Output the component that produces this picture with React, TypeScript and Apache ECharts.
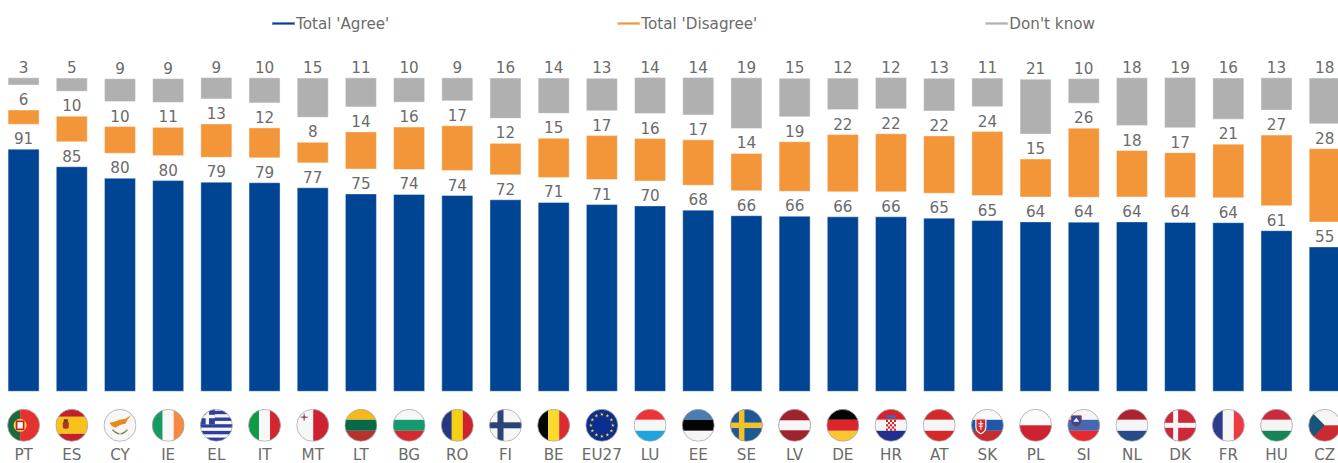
import React, { useEffect, useRef } from "react";
import * as echarts from "echarts";

const countries = ["PT","ES","CY","IE","EL","IT","MT","LT","BG","RO","FI","BE","EU27","LU","EE","SE","LV","DE","HR","AT","SK","PL","SI","NL","DK","FR","HU","CZ"];
const agree = [91.3,84.7,80.4,79.5,78.9,78.7,76.8,74.5,74.3,73.9,72.3,71.3,70.5,70.0,68.4,66.3,66.1,65.9,65.9,65.4,64.5,64.0,63.9,64.0,63.8,63.7,60.7,54.6];
const disagree = [5.7,10.0,10.4,11.0,12.9,11.6,8.1,14.3,16.3,17.2,12.2,15.1,16.9,16.3,17.4,14.4,19.0,21.9,22.2,21.9,24.4,14.6,26.3,17.8,17.2,20.5,26.9,27.9];
const dontKnow = [3.1,5.3,9.0,9.3,8.5,9.8,15.1,11.3,9.5,9.0,15.5,13.6,12.5,13.9,14.4,19.4,14.8,12.2,12.2,12.6,11.1,21.0,9.6,18.3,19.3,15.8,12.5,17.5];
const spacerLow = [9,9,9,9,9,9,9,9,9,9,9,9,9,9,9,9,9,9,9,9,9,9,9,9,9,9,9,9];
const spacerHigh = [9,9,9,9,9,9,9,9,9,9,9,9,9,9,9,9,9,9,9,9,9,9,9,9,9,9,9,9];

const FONT = "'DejaVu Sans', Verdana, sans-serif";
const TEXT = "#6b6b6b";
const FS = 15.2;
const W = 33;

const rect = (x: number, y: number, w: number, h: number, c: string) => `<rect x="${x}" y="${y}" width="${w}" height="${h}" fill="${c}"/>`;
const hz = (a: string, b: string, c: string) => rect(0,0,33,11,a)+rect(0,11,33,11,b)+rect(0,22,33,11,c);
const vt = (a: string, b: string, c: string) => rect(0,0,11,33,a)+rect(11,0,11,33,b)+rect(22,0,11,33,c);
const star = (cx: number, cy: number, r: number, c: string) => {
  const pts: string[] = [];
  for (let i = 0; i < 10; i++) {
    const rr = i % 2 ? r * 0.4 : r;
    const a = -Math.PI / 2 + (i * Math.PI) / 5;
    pts.push(`${(cx + rr * Math.cos(a)).toFixed(2)},${(cy + rr * Math.sin(a)).toFixed(2)}`);
  }
  return `<polygon points="${pts.join(" ")}" fill="${c}"/>`;
};
const euStars = () => {
  let s = "";
  for (let i = 0; i < 12; i++) {
    const a = (i * Math.PI) / 6;
    s += star(16.5 + 11 * Math.cos(a), 16.5 + 11 * Math.sin(a), 2, "#f8d12a");
  }
  return s;
};
const greek = () => {
  let s = rect(0,0,33,33,"#f6f6f6");
  for (let i = 0; i < 5; i++) s += rect(0, 2 + i * 6.7, 33, 3.4, "#2f3f9e");
  s += rect(0,0,15,15.5,"#2f3f9e") + rect(5.8,0,3.4,15.5,"#f6f6f6") + rect(0,6,15,3.4,"#f6f6f6");
  return s;
};
const croatia = () => {
  let s = hz("#d9222f","#f6f6f6","#222f8f");
  for (let r = 0; r < 5; r++) for (let c = 0; c < 5; c++) if ((r + c) % 2 === 0) s += rect(11.5 + c * 2, 11 + r * 2.2, 2, 2.2, "#d9222f");
  s += rect(11.5,6.5,10,3,"#3f66a8");
  return s;
};

const flagSvg: Record<string, string> = {
  PT: rect(0,0,13,33,"#1d6b3c")+rect(13,0,20,33,"#e5322f")+`<circle cx="13" cy="16.5" r="6.5" fill="#f2d34c"/><rect x="9.5" y="12.5" width="7" height="8" fill="#f4f4f4" stroke="#c0222a" stroke-width="1.6"/>`,
  ES: rect(0,0,33,8,"#c4202a")+rect(0,8,33,17,"#f8c21c")+rect(0,25,33,8,"#c4202a")+`<rect x="7.5" y="12.5" width="6" height="7.5" rx="2" fill="#a8392a"/><rect x="8.5" y="10.5" width="4" height="2.5" fill="#5c3a1e"/>`,
  CY: rect(0,0,33,33,"#f7f7f7")+`<polygon points="6,14 11,13 16,11 22,10 28,6 24,11 22,15 17,16 12,19 8,17" fill="#e58a1f"/><path d="M9 21 Q13 25 16 25 M24 21 Q20 25 17 25" stroke="#7a8f5a" stroke-width="1.6" fill="none"/>`,
  IE: vt("#159a62","#f8f8f8","#f58a45"),
  EL: greek(),
  IT: vt("#0f9a49","#f7f7f7","#d2252f"),
  MT: rect(0,0,17,33,"#f7f7f7")+rect(17,0,16,33,"#cf2230")+`<path d="M8 5 v7 M4.5 8.5 h7" stroke="#8a8f98" stroke-width="1.6"/><circle cx="8" cy="8.5" r="1.3" fill="#b03a48"/>`,
  LT: hz("#f5b81e","#056a4a","#b8322c"),
  BG: hz("#f7f7f7","#139a6e","#d6282f"),
  RO: vt("#26377f","#f5cf12","#d0212f"),
  FI: rect(0,0,33,33,"#f6f6f6")+rect(8.5,0,6,33,"#2b4476")+rect(0,13.5,33,6,"#2b4476"),
  BE: vt("#050505","#fcd92c","#d82a2f"),
  EU27: rect(0,0,33,33,"#0b2f8f")+euStars(),
  LU: hz("#ee3338","#f6f6f6","#1fa5db"),
  EE: hz("#4a7db5","#050505","#f5f5f5"),
  SE: rect(0,0,33,33,"#1c5a96")+rect(9,0,5.5,33,"#f5c12a")+rect(0,13.75,33,5.5,"#f5c12a"),
  LV: rect(0,0,33,33,"#a0222c")+rect(0,11.5,33,10,"#f6f6f6"),
  DE: hz("#050505","#dc242c","#fcc533"),
  HR: croatia(),
  AT: hz("#d32a29","#f6f6f6","#d32a29"),
  SK: hz("#f9f9f9","#1d58a9","#c92a30")+`<path d="M5 10 h10 v8 q0 5 -5 7 q-5 -2 -5 -7 z" fill="#d32a30" stroke="#f6f6f6" stroke-width="1.2"/><path d="M10 12 v9 M7.5 15 h5 M8 17.5 h4" stroke="#f6f6f6" stroke-width="1.1"/>`,
  PL: rect(0,0,33,16.5,"#fcfbf9")+rect(0,16.5,33,16.5,"#cf2230"),
  SI: hz("#f5f5f5","#4668b0","#e8272e")+`<path d="M4 7 h10 v6 q0 3 -5 5 q-5 -2 -5 -5 z" fill="#2d4a9a" stroke="#cf2a30" stroke-width="0.8"/><path d="M6 13 l3 -4 l3 4 z" fill="#f6f6f6"/>`,
  NL: hz("#ab2330","#f5f5f5","#274a8b"),
  DK: rect(0,0,33,33,"#cd2938")+rect(9.5,0,5,33,"#f6f6f6")+rect(0,14,33,5,"#f6f6f6"),
  FR: vt("#2c3c8e","#f6f6f6","#ec3a44"),
  HU: hz("#ca2a3c","#f5f5f5","#158458"),
  CZ: rect(0,0,33,16.5,"#f5f5f5")+rect(0,16.5,33,16.5,"#cc2a33")+`<polygon points="0,0 16.5,16.5 0,33" fill="#15567a"/>`,
};

const flagUri = (code: string) => {
  const svg = `<svg xmlns="http://www.w3.org/2000/svg" width="${W}" height="${W}" viewBox="0 0 33 33"><defs><clipPath id="c"><circle cx="16.5" cy="16.5" r="16"/></clipPath></defs><g clip-path="url(#c)">${flagSvg[code]}</g><circle cx="16.5" cy="16.5" r="16" fill="none" stroke="#a8a8a8" stroke-width="0.8"/></svg>`;
  return "data:image/svg+xml;charset=utf-8," + encodeURIComponent(svg);
};

const rich: Record<string, any> = {
  code: { fontFamily: FONT, fontSize: FS, color: TEXT, lineHeight: 15, padding: [12, 0, 0, 0] },
};
countries.forEach((c, i) => {
  rich["f" + i] = { width: W, height: W, lineHeight: W, backgroundColor: { image: flagUri(c) } };
});

const dataLabel = {
  show: true,
  position: "top" as const,
  distance: 2,
  fontFamily: FONT,
  fontSize: FS,
  color: TEXT,
  formatter: (p: any) => String(Math.round(p.value)),
};

const stackBar = (name: string, data: number[], color: string) => ({
  name,
  type: "bar" as const,
  stack: "s",
  data,
  barWidth: 32,
  itemStyle: { color, borderColor: "rgba(255,255,255,0.4)", borderWidth: 1 },
  label: dataLabel,
});
const spacer = (name: string, data: number[]) => ({
  name,
  type: "bar" as const,
  stack: "s",
  data,
  barWidth: 32,
  silent: true,
  itemStyle: { color: "transparent" },
  label: { show: false },
});

export default function App() {
  const ref = useRef<HTMLDivElement>(null);
  useEffect(() => {
    const chart = echarts.init(ref.current!, null, { renderer: "svg" });
    chart.setOption({
      animation: false,
      backgroundColor: "#ffffff",
      legend: {
        left: 271,
        top: 16,
        padding: 0,
        itemWidth: 23,
        itemHeight: 3,
        itemGap: 227,
        icon: "rect",
        data: ["Total 'Agree'", "Total 'Disagree'", "Don't know"],
        textStyle: { fontFamily: FONT, fontSize: FS, color: TEXT, padding: [0, 0, 0, -4] },
      },
      grid: { left: -0.5, top: 77.6, width: 1349.3, height: 314.2, containLabel: false, outerBoundsMode: "none" },
      xAxis: {
        type: "category",
        data: countries,
        axisLine: { show: false },
        axisTick: { show: false },
        axisLabel: {
          interval: 0,
          margin: 17,
          hideOverlap: false,
          formatter: (v: string, i: number) => `{f${i}|}\n{code|${v}}`,
          rich,
        },
      },
      yAxis: { type: "value", min: 0, max: 118, show: false, splitLine: { show: false } },
      series: [
        stackBar("Total 'Agree'", agree, "#004494"),
        spacer("gapLow", spacerLow),
        stackBar("Total 'Disagree'", disagree, "#F39639"),
        spacer("gapHigh", spacerHigh),
        stackBar("Don't know", dontKnow, "#B0B0B0"),
      ],
    });
    return () => chart.dispose();
  }, []);
  return <div ref={ref} style={{ position: "absolute", left: 0, top: 0, width: 1338, height: 463 }} />;
}
